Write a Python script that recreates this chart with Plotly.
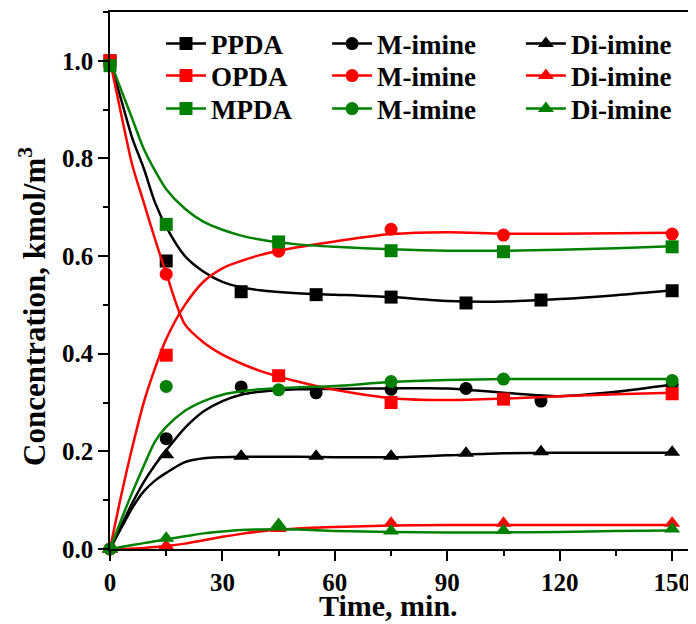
import plotly.graph_objects as go

# ---------------- measured points ----------------
t_ppda = [0, 15, 35, 55, 75, 95, 115, 150]
ppda = [1.0, 0.59, 0.527, 0.521, 0.516, 0.504, 0.51, 0.529]
ppda_mimine = [0, 0.226, 0.332, 0.32, 0.327, 0.329, 0.303, 0.337]
ppda_diimine = [0, 0.193, 0.19, 0.19, 0.19, 0.196, 0.199, 0.198]

t_other = [0, 15, 45, 75, 105, 150]
opda = [1.0, 0.397, 0.355, 0.30, 0.307, 0.318]
opda_mimine = [0, 0.563, 0.61, 0.655, 0.643, 0.645]
opda_diimine = [0, 0.006, 0.042, 0.053, 0.053, 0.053]

mpda = [0.99, 0.665, 0.629, 0.611, 0.609, 0.619]
mpda_mimine = [0, 0.333, 0.326, 0.343, 0.348, 0.345]
mpda_diimine = [0, 0.022, 0.05, 0.037, 0.038, 0.041]

# ---------------- fitted model curves ----------------
t_fit = [0, 3, 6, 9, 12, 15, 20, 25, 30, 35, 40, 50, 60, 75, 90, 105, 120, 135, 150]
fit_ppda = [1.0, 0.92, 0.84, 0.78, 0.71, 0.66, 0.60, 0.568, 0.547, 0.536, 0.53, 0.524, 0.521, 0.516, 0.508, 0.507, 0.512, 0.52, 0.53]
fit_ppda_mimine = [0, 0.048, 0.095, 0.137, 0.172, 0.202, 0.248, 0.282, 0.303, 0.316, 0.322, 0.327, 0.328, 0.329, 0.329, 0.32, 0.313, 0.322, 0.337]
fit_ppda_diimine = [0, 0.043, 0.085, 0.118, 0.14, 0.156, 0.178, 0.186, 0.188, 0.189, 0.189, 0.189, 0.188, 0.188, 0.192, 0.196, 0.197, 0.197, 0.197]

fit_opda = [1.0, 0.89, 0.785, 0.71, 0.635, 0.565, 0.46, 0.423, 0.398, 0.38, 0.365, 0.343, 0.326, 0.309, 0.305, 0.308, 0.313, 0.317, 0.32]
fit_opda_mimine = [0, 0.11, 0.21, 0.30, 0.37, 0.43, 0.50, 0.548, 0.575, 0.59, 0.602, 0.618, 0.63, 0.645, 0.649, 0.646, 0.646, 0.647, 0.648]
fit_opda_diimine = [0, 0.0, 0.001, 0.002, 0.004, 0.006, 0.011, 0.018, 0.025, 0.031, 0.036, 0.042, 0.045, 0.048, 0.049, 0.049, 0.049, 0.049, 0.049]

fit_mpda = [1.0, 0.94, 0.88, 0.82, 0.775, 0.737, 0.697, 0.67, 0.654, 0.642, 0.634, 0.624, 0.619, 0.614, 0.611, 0.611, 0.613, 0.616, 0.62]
fit_mpda_mimine = [0, 0.06, 0.117, 0.17, 0.22, 0.25, 0.283, 0.303, 0.316, 0.323, 0.327, 0.331, 0.334, 0.342, 0.346, 0.348, 0.348, 0.348, 0.348]
fit_mpda_diimine = [0, 0.004, 0.008, 0.012, 0.016, 0.02, 0.026, 0.032, 0.036, 0.039, 0.04, 0.04, 0.037, 0.035, 0.034, 0.034, 0.035, 0.037, 0.038]

x_ticks = [0, 30, 60, 90, 120, 150]
y_ticks = [0.0, 0.2, 0.4, 0.6, 0.8, 1.0]

BLACK, RED, GREEN = "#000000", "#FF0000", "#008000"
FONT = "Liberation Serif"

groups = [
    (BLACK, "PPDA", t_ppda, [ppda, ppda_mimine, ppda_diimine],
     [fit_ppda, fit_ppda_mimine, fit_ppda_diimine]),
    (RED, "OPDA", t_other, [opda, opda_mimine, opda_diimine],
     [fit_opda, fit_opda_mimine, fit_opda_diimine]),
    (GREEN, "MPDA", t_other, [mpda, mpda_mimine, mpda_diimine],
     [fit_mpda, fit_mpda_mimine, fit_mpda_diimine]),
]
symbols = ["square", "circle", "triangle-up"]
sizes = [13, 13, 14]

fig = go.Figure()
for color, name, tx, pts, fits in groups:
    names = [name, "M-imine", "Di-imine"]
    for k in range(3):
        fig.add_trace(go.Scatter(
            x=t_fit, y=fits[k], mode="lines", line=dict(color=color, width=2.5, shape="spline", smoothing=0.8),
            showlegend=False, hoverinfo="skip"))
        fig.add_trace(go.Scatter(
            x=tx, y=pts[k], mode="markers", cliponaxis=False,
            marker=dict(symbol=symbols[k], size=sizes[k], color=color, line=dict(width=0)),
            showlegend=False, name=names[k]))

# legend: one small legend per entry, laid out as a 3x3 grid
col_x = [0.0876, 0.373, 0.706]
row_y = [0.9404, 0.8808, 0.8194]
legend_layout = {}
n = 0
for r, (color, name, tx, pts, fits) in enumerate(groups):
    names = [name, "M-imine", "Di-imine"]
    for k in range(3):
        n += 1
        key = "legend" if n == 1 else f"legend{n}"
        fig.add_trace(go.Scatter(
            x=[None], y=[None], mode="lines+markers", name=names[k], legend=key,
            line=dict(color=color, width=2.5),
            marker=dict(symbol=symbols[k], size=sizes[k], color=color)))
        legend_layout[key] = dict(
            x=col_x[k], xanchor="left", y=row_y[r], yanchor="middle",
            bgcolor="rgba(0,0,0,0)", itemwidth=40,
            font=dict(family=FONT, size=27, color="black", weight="bold"))

axis_common = dict(
    showline=True, linecolor="black", linewidth=1.5, mirror=True,
    ticks="outside", ticklen=10, tickwidth=1.5, tickcolor="black",
    showgrid=False, zeroline=False, automargin=False,
    tickfont=dict(family=FONT, size=25, color="black", weight="bold"),
    minor=dict(ticks="outside", ticklen=5, tickwidth=1.5, tickcolor="black"),
)

fig.update_xaxes(range=[0, 155.3], tickvals=x_ticks, ticktext=[str(v) for v in x_ticks],
                 minor_dtick=15, minor_tick0=0, **axis_common)
fig.update_yaxes(range=[0, 1.1], tickvals=y_ticks, ticktext=[f"{v:.1f}" for v in y_ticks],
                 minor_dtick=0.1, minor_tick0=0, **axis_common)

# axis titles placed like the reference
fig.add_annotation(text="Time, min.", xref="paper", yref="paper",
                   x=0.479, y=-0.106, xanchor="center", yanchor="middle",
                   showarrow=False, font=dict(family=FONT, size=30, color="black", weight="bold"))
fig.add_annotation(text="Concentration, kmol/m<sup>3</sup>", xref="paper", yref="paper",
                   x=-0.1323, y=0.4507, xanchor="center", yanchor="middle", textangle=-90,
                   showarrow=False, font=dict(family=FONT, size=31, color="black", weight="bold"))

# the page body has an 8px margin, so the figure is 8px smaller and margins shifted
fig.update_layout(
    width=688, height=616,
    margin=dict(l=102, r=4, t=4, b=75),
    plot_bgcolor="white", paper_bgcolor="white",
    **legend_layout,
)

fig.write_html("out.html")
